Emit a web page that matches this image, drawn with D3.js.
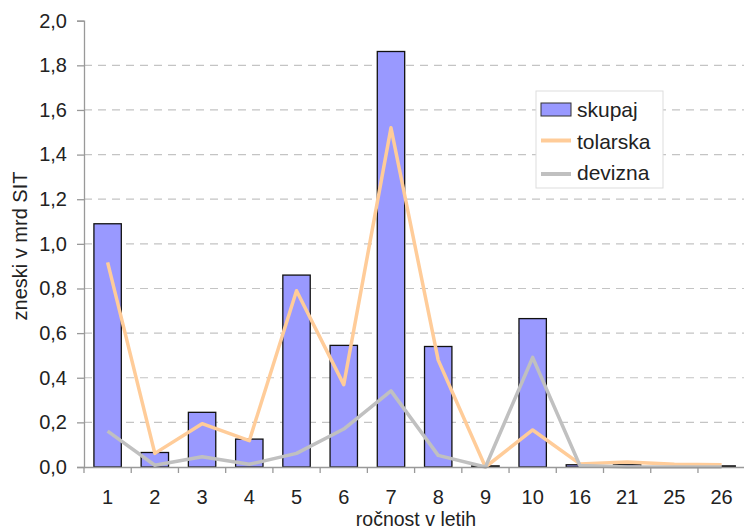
<!DOCTYPE html>
<html>
<head>
<meta charset="utf-8">
<script src="https://cdn.jsdelivr.net/npm/d3@7"></script>
<style>
  html, body { margin: 0; padding: 0; background: #fff; }
  svg text { font-family: "Liberation Sans", Arial, sans-serif; fill: #222; }
</style>
</head>
<body>
<svg id="chart" width="744" height="529"></svg>
<script>
const categories = ["1","2","3","4","5","6","7","8","9","10","16","21","25","26"];
const skupaj   = [1.09, 0.065, 0.245, 0.125, 0.86, 0.545, 1.862, 0.54, 0.005, 0.665, 0.01, 0.01, 0.0, 0.005];
const tolarska = [0.917, 0.061, 0.194, 0.118, 0.79, 0.369, 1.52, 0.479, 0.0, 0.166, 0.014, 0.022, 0.012, 0.01];
const devizna  = [0.161, 0.008, 0.046, 0.012, 0.061, 0.17, 0.341, 0.052, 0.0, 0.491, 0.007, 0.0, 0.0, 0.0];
const yTicks = [0, 0.2, 0.4, 0.6, 0.8, 1.0, 1.2, 1.4, 1.6, 1.8, 2.0];
const legendLabels = ["skupaj", "tolarska", "devizna"];
const xTitle = "ročnost v letih";
const yTitle = "zneski v mrd SIT";

(function () {
const svg = d3.select("#chart");
const pLeft = 84, pRight = 745.2, pTop = 20.7, pBottom = 467;

const x = d3.scaleBand().domain(categories).range([pLeft, pRight])
  .paddingInner(0.42).paddingOuter(0.21);
const y = d3.scaleLinear().domain([0, 2]).range([pBottom, pTop]);
const fmt = d => d3.format(".1f")(d).replace(".", ",");

// gridlines
svg.append("g").selectAll("line")
  .data(yTicks.filter(t => t > 0 && t < 2))
  .join("line")
  .attr("x1", pLeft).attr("x2", pRight)
  .attr("y1", d => y(d)).attr("y2", d => y(d))
  .attr("stroke", "#c4c4c4").attr("stroke-width", 1.2)
  .attr("stroke-dasharray", "8,6");

// bars
svg.append("g").selectAll("rect")
  .data(skupaj)
  .join("rect")
  .attr("x", (d, i) => x(categories[i]))
  .attr("width", x.bandwidth())
  .attr("y", d => y(d))
  .attr("height", d => pBottom - y(d))
  .attr("fill", "#9999ff")
  .attr("stroke", "#111")
  .attr("stroke-width", 1.3);

// lines
const line = d3.line()
  .x((d, i) => x(categories[i]) + x.bandwidth() / 2)
  .y(d => y(d));
svg.append("path").datum(tolarska).attr("d", line)
  .attr("fill", "none").attr("stroke", "#ffcc99").attr("stroke-width", 3.5)
  .attr("stroke-linejoin", "round");
svg.append("path").datum(devizna).attr("d", line)
  .attr("fill", "none").attr("stroke", "#c0c0c0").attr("stroke-width", 3.5)
  .attr("stroke-linejoin", "round");

// y axis
const yAxis = d3.axisLeft(y).tickValues(yTicks).tickFormat(fmt).tickSize(7).tickPadding(10);
const gy = svg.append("g").attr("transform", `translate(${pLeft},0)`).call(yAxis);
gy.select(".domain").attr("stroke", "#999").attr("stroke-width", 1.3);
gy.selectAll(".tick line").attr("stroke", "#999").attr("stroke-width", 1.3);
gy.selectAll(".tick text").style("font-size", "20px").attr("fill", "#222")
  .style("font-family", '"Liberation Sans", Arial, sans-serif');

// x axis
const xAxis = d3.axisBottom(x).tickSize(0).tickPadding(23);
const gx = svg.append("g").attr("transform", `translate(0,${pBottom})`).call(xAxis);
gx.select(".domain").attr("stroke", "#999").attr("stroke-width", 1.3);
gx.selectAll(".tick text").style("font-size", "20px").attr("fill", "#222")
  .style("font-family", '"Liberation Sans", Arial, sans-serif');
const step = x.step();
gx.append("g").selectAll("line")
  .data(categories)
  .join("line")
  .attr("x1", (d, i) => pLeft + i * step).attr("x2", (d, i) => pLeft + i * step)
  .attr("y1", 0).attr("y2", 6)
  .attr("stroke", "#999").attr("stroke-width", 1.3);

// axis titles
svg.append("text").attr("x", 416).attr("y", 526)
  .attr("text-anchor", "middle").style("font-size", "19.5px").text(xTitle);
svg.append("text")
  .attr("transform", "translate(27,246) rotate(-90)")
  .attr("text-anchor", "middle").style("font-size", "20px").text(yTitle);

// legend
const lg = svg.append("g");
lg.append("rect").attr("x", 536).attr("y", 91).attr("width", 127).attr("height", 97)
  .attr("fill", "#fff").attr("stroke", "#ddd").attr("stroke-width", 1);
const rowsY = [117, 148.5, 180];
lg.append("rect").attr("x", 541).attr("y", 103).attr("width", 30).attr("height", 13)
  .attr("fill", "#9999ff").attr("stroke", "#333").attr("stroke-width", 1);
lg.append("line").attr("x1", 541).attr("x2", 571).attr("y1", 140.5).attr("y2", 140.5)
  .attr("stroke", "#ffcc99").attr("stroke-width", 4);
lg.append("line").attr("x1", 541).attr("x2", 571).attr("y1", 174).attr("y2", 174)
  .attr("stroke", "#c0c0c0").attr("stroke-width", 4);
lg.selectAll("text.lt").data(legendLabels).join("text")
  .attr("class", "lt")
  .attr("x", 577).attr("y", (d, i) => rowsY[i])
  .style("font-size", "21px").text(d => d);
})();
</script>
</body>
</html>
